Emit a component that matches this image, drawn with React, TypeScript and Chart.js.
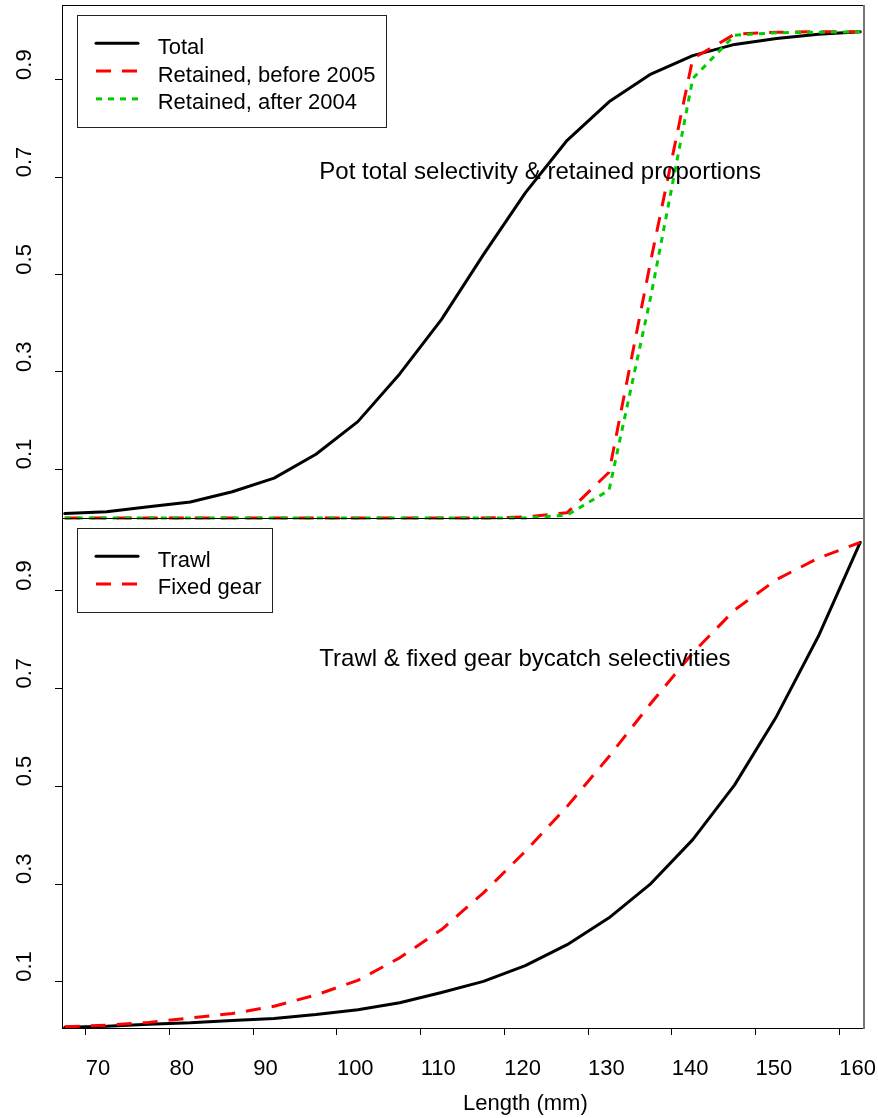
import React, { useEffect, useRef } from 'react';
import { Chart, registerables } from 'chart.js';

Chart.register(...registerables);

// ---------- data ----------
const LENGTHS = [67.5, 72.5, 77.5, 82.5, 87.5, 92.5, 97.5, 102.5, 107.5, 112.5, 117.5, 122.5, 127.5, 132.5, 137.5, 142.5, 147.5, 152.5, 157.5, 162.5];

const POT_TOTAL = [0.009, 0.013, 0.023, 0.033, 0.054, 0.082, 0.131, 0.198, 0.296, 0.408, 0.541, 0.668, 0.776, 0.855, 0.912, 0.950, 0.973, 0.985, 0.994, 0.999];
const RETAINED_BEFORE_2005 = [0, 0, 0, 0, 0, 0, 0, 0, 0, 0, 0, 0.002, 0.011, 0.094, 0.530, 0.944, 0.994, 0.998, 0.999, 0.999];
const RETAINED_AFTER_2004 = [0, 0, 0, 0, 0, 0, 0, 0, 0, 0, 0, 0, 0.006, 0.057, 0.456, 0.903, 0.992, 0.997, 0.998, 0.999];

const TRAWL = [0.007, 0.009, 0.013, 0.016, 0.021, 0.025, 0.033, 0.043, 0.057, 0.078, 0.101, 0.133, 0.176, 0.231, 0.301, 0.391, 0.503, 0.643, 0.807, 0.999];
const FIXED_GEAR = [0.008, 0.011, 0.017, 0.026, 0.035, 0.050, 0.073, 0.103, 0.149, 0.207, 0.282, 0.367, 0.459, 0.561, 0.670, 0.773, 0.861, 0.923, 0.967, 0.999];

const X_TICKS = [70, 80, 90, 100, 110, 120, 130, 140, 150, 160];
const X_TICK_LABELS = ['70', '80', '90', '100', '110', '120', '130', '140', '150', '160'];
const Y_TICKS = [0.1, 0.3, 0.5, 0.7, 0.9];
const Y_TICK_LABELS = ['0.1', '0.3', '0.5', '0.7', '0.9'];

const X_AXIS_TITLE = 'Length (mm)';
const TOP_TITLE = 'Pot total selectivity & retained proportions';
const BOTTOM_TITLE = 'Trawl & fixed gear bycatch selectivities';
const TOP_LEGEND = ['Total', 'Retained, before 2005', 'Retained, after 2004'];
const BOTTOM_LEGEND = ['Trawl', 'Fixed gear'];

// axis ranges
const X_MIN = 67.17;
const X_MAX = 162.95;
const TOP_Y_MIN = 0;
const TOP_Y_MAX = 1.054;
const BOT_Y_MIN = 0.0055;
const BOT_Y_MAX = 1.049;

// annotation anchors (data coordinates: left edge / baseline)
const TOP_TITLE_POS = [97.9, 0.697];
const BOTTOM_TITLE_POS = [97.9, 0.746];

const FONT = '"Liberation Sans", Arial, Helvetica, sans-serif';
const W = 878;
const H = 1118;

const pts = (ys: number[]) => LENGTHS.map((x, i) => ({ x, y: ys[i] }));

const decorPlugin = {
  id: 'panelDecor',
  afterDraw(chart: any, _args: any, opts: any) {
    const ctx = chart.ctx as CanvasRenderingContext2D;
    const { left, right, top, bottom } = chart.chartArea;
    const xs = chart.scales.x;
    const ys = chart.scales.y;
    ctx.save();

    // frame
    ctx.strokeStyle = '#000';
    ctx.lineWidth = 1;
    ctx.beginPath();
    ctx.moveTo(left, Math.round(top) + 0.5);
    ctx.lineTo(right, Math.round(top) + 0.5);
    ctx.moveTo(left, Math.round(bottom) + 0.5);
    ctx.lineTo(right, Math.round(bottom) + 0.5);
    ctx.stroke();
    ctx.strokeStyle = '#777';
    ctx.lineWidth = 2;
    ctx.beginPath();
    ctx.moveTo(right, top);
    ctx.lineTo(right, bottom + 1);
    ctx.stroke();

    ctx.fillStyle = '#000';
    // y tick labels (rotated, starting at the tick)
    ctx.font = `22px ${FONT}`;
    Y_TICKS.forEach((v, i) => {
      const py = ys.getPixelForValue(v);
      ctx.save();
      ctx.translate(left - 31, py);
      ctx.rotate(-Math.PI / 2);
      ctx.textAlign = 'left';
      ctx.textBaseline = 'alphabetic';
      ctx.fillText(Y_TICK_LABELS[i], 0, 0);
      ctx.restore();
    });

    // x tick labels + axis title
    if (opts.showX) {
      ctx.textAlign = 'left';
      ctx.textBaseline = 'alphabetic';
      X_TICKS.forEach((v, i) => {
        const px = xs.getPixelForValue(v);
        ctx.fillText(X_TICK_LABELS[i], px, bottom + 47);
      });
      ctx.fillText(X_AXIS_TITLE, (left + right) / 2, bottom + 82);
    }

    // panel title
    ctx.font = `24px ${FONT}`;
    ctx.textAlign = 'left';
    ctx.textBaseline = 'alphabetic';
    ctx.fillText(opts.title, xs.getPixelForValue(opts.titlePos[0]), ys.getPixelForValue(opts.titlePos[1]));

    // legend
    ctx.font = `22px ${FONT}`;
    const ds = chart.data.datasets;
    const bx = left + 15;
    const by = top + 10;
    const rowGap = opts.rowGap;
    let maxW = 0;
    ds.forEach((d: any) => { maxW = Math.max(maxW, ctx.measureText(d.label).width); });
    const bw = 80.7 + maxW + 10.6;
    const bh = 56.6 + (ds.length - 1) * rowGap;
    ctx.fillStyle = '#fff';
    ctx.fillRect(bx, by, bw, bh);
    ctx.strokeStyle = '#222';
    ctx.lineWidth = 1;
    ctx.strokeRect(Math.round(bx) + 0.5, Math.round(by) + 0.5, Math.round(bw), Math.round(bh));
    ds.forEach((d: any, i: number) => {
      const ry = by + 28.3 + i * rowGap;
      ctx.save();
      ctx.strokeStyle = d.borderColor;
      ctx.lineWidth = d.borderWidth;
      ctx.lineCap = d.borderCapStyle || 'butt';
      ctx.setLineDash(d.borderDash || []);
      ctx.beginPath();
      ctx.moveTo(bx + 19, ry);
      ctx.lineTo(bx + 61, ry);
      ctx.stroke();
      ctx.restore();
      ctx.fillStyle = '#000';
      ctx.fillText(d.label, bx + 80.7, ry + 10.5);
    });

    ctx.restore();
  },
};

function buildConfig(panel: 'top' | 'bottom'): any {
  const isTop = panel === 'top';
  const datasets = isTop
    ? [
        { label: TOP_LEGEND[0], data: pts(POT_TOTAL), borderColor: '#000000', borderWidth: 3, borderDash: [], borderCapStyle: 'round', order: 3 },
        { label: TOP_LEGEND[1], data: pts(RETAINED_BEFORE_2005), borderColor: '#ff0000', borderWidth: 3, borderDash: [15, 11], borderCapStyle: 'butt', order: 2, clip: false },
        { label: TOP_LEGEND[2], data: pts(RETAINED_AFTER_2004), borderColor: '#00cd00', borderWidth: 3, borderDash: [6, 6], borderCapStyle: 'butt', order: 1, clip: false },
      ]
    : [
        { label: BOTTOM_LEGEND[0], data: pts(TRAWL), borderColor: '#000000', borderWidth: 3, borderDash: [], borderCapStyle: 'round', order: 2 },
        { label: BOTTOM_LEGEND[1], data: pts(FIXED_GEAR), borderColor: '#ff0000', borderWidth: 3, borderDash: [15, 11], borderCapStyle: 'butt', order: 1 },
      ];

  return {
    type: 'line',
    data: { datasets },
    options: {
      animation: false,
      responsive: false,
      devicePixelRatio: 1,
      layout: {
        padding: isTop
          ? { left: 0, top: 5, right: 14, bottom: H - 518 }
          : { left: 0, top: 518, right: 14, bottom: 0 },
      },
      elements: {
        point: { radius: 0, hoverRadius: 0 },
        line: { tension: 0, borderJoinStyle: 'round', fill: false },
      },
      scales: {
        x: {
          type: 'linear',
          min: X_MIN,
          max: X_MAX,
          display: !isTop,
          afterBuildTicks: (s: any) => { s.ticks = X_TICKS.map((v) => ({ value: v })); },
          afterFit: (s: any) => { s.height = isTop ? 0 : 90; },
          ticks: { display: false },
          grid: { drawOnChartArea: false, drawTicks: true, tickLength: 7, color: '#000', lineWidth: 1 },
          border: { display: true, color: '#000', width: 1 },
        },
        y: {
          type: 'linear',
          min: isTop ? TOP_Y_MIN : BOT_Y_MIN,
          max: isTop ? TOP_Y_MAX : BOT_Y_MAX,
          afterBuildTicks: (s: any) => { s.ticks = Y_TICKS.map((v) => ({ value: v })); },
          afterFit: (s: any) => { s.width = 62; },
          ticks: { display: false },
          grid: { drawOnChartArea: false, drawTicks: true, tickLength: 7, color: '#000', lineWidth: 1 },
          border: { display: true, color: '#000', width: 1 },
        },
      },
      plugins: {
        legend: { display: false },
        tooltip: { enabled: false },
        title: { display: false },
        panelDecor: {
          showX: !isTop,
          title: isTop ? TOP_TITLE : BOTTOM_TITLE,
          titlePos: isTop ? TOP_TITLE_POS : BOTTOM_TITLE_POS,
          rowGap: isTop ? 27.8 : 27.6,
        },
      },
    },
    plugins: [decorPlugin],
  };
}

export default function App() {
  const topRef = useRef<HTMLCanvasElement | null>(null);
  const botRef = useRef<HTMLCanvasElement | null>(null);

  useEffect(() => {
    const c1 = new Chart(botRef.current as HTMLCanvasElement, buildConfig('bottom'));
    const c2 = new Chart(topRef.current as HTMLCanvasElement, buildConfig('top'));
    return () => {
      c1.destroy();
      c2.destroy();
    };
  }, []);

  const canvasStyle: React.CSSProperties = { position: 'absolute', left: 0, top: 0, width: W, height: H };
  return (
    <div style={{ position: 'absolute', left: 0, top: 0, width: W, height: H, background: '#fff' }}>
      <canvas ref={botRef} width={W} height={H} style={canvasStyle} />
      <canvas ref={topRef} width={W} height={H} style={canvasStyle} />
    </div>
  );
}
